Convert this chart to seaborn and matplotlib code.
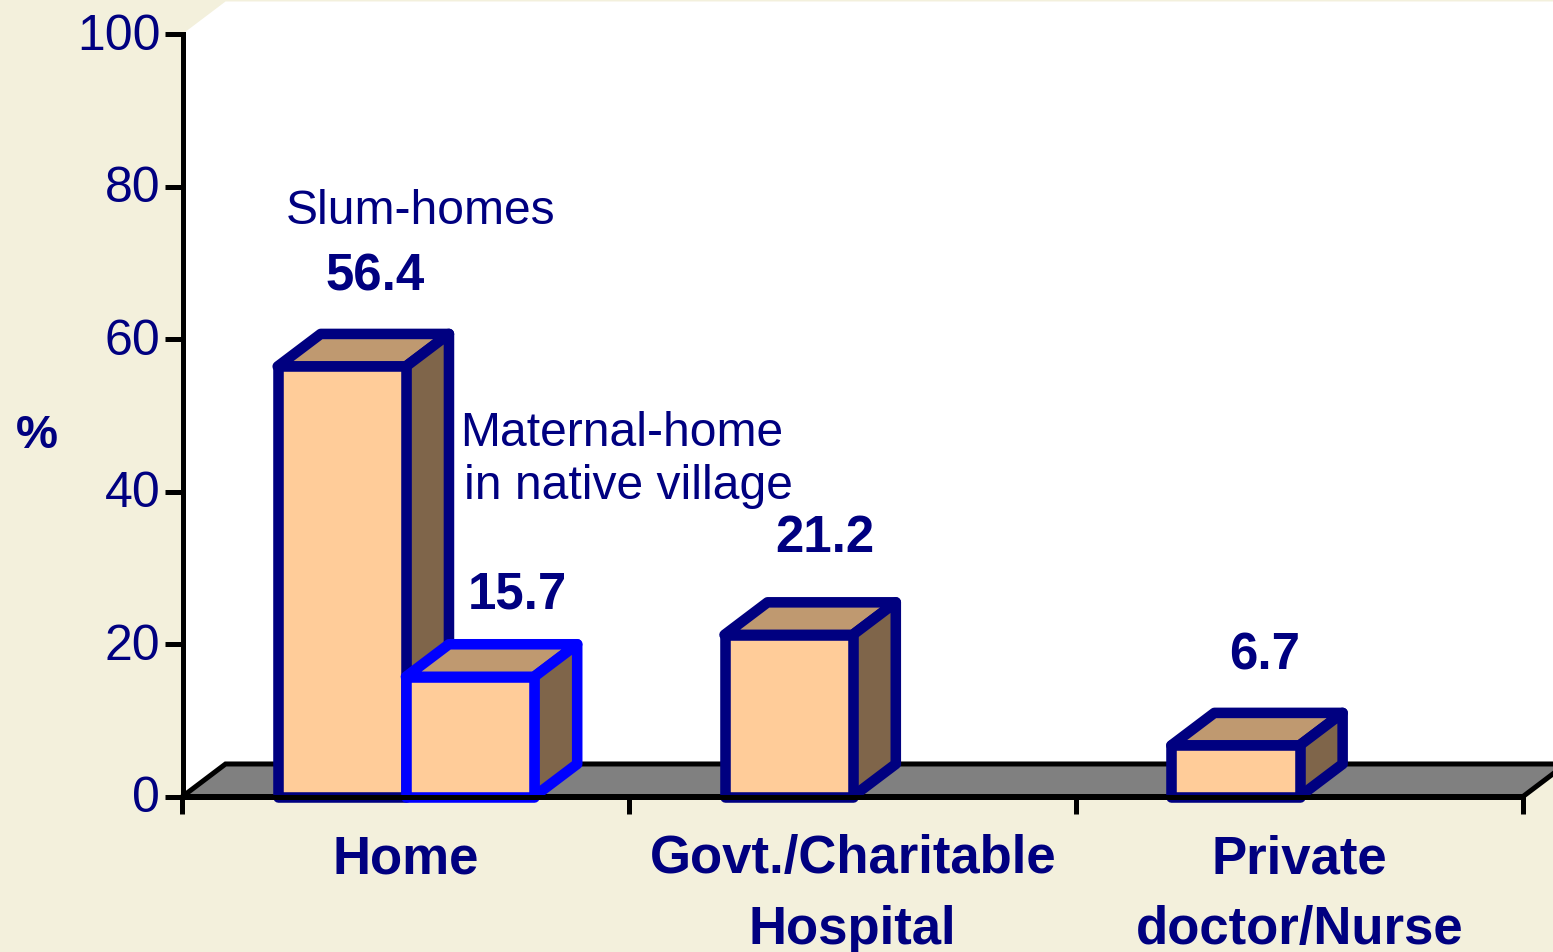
import matplotlib
matplotlib.use('Agg')
import matplotlib.pyplot as plt
import pandas as pd
import seaborn as sns
from matplotlib.patches import Polygon
from matplotlib.transforms import ScaledTranslation

# data
places = ['Home', 'Home', 'Govt./Charitable\nHospital', 'Private\ndoctor/Nurse']
kinds = ['main', 'maternal', 'main', 'main']
percent = [56.4, 15.7, 21.2, 6.7]
place_order = ['Home', 'Govt./Charitable\nHospital', 'Private\ndoctor/Nurse']
kind_order = ['main', 'maternal']
y_ticks = [0, 20, 40, 60, 80, 100]

NAVY = '#000080'
BLUE = '#0000FF'
BEIGE = '#F3F0DC'
FRONT = '#FFCC99'
TOP = '#BF9970'
SIDE = '#7F654A'
W, H = 1553, 953
EDGE = 7.6

# depth of the fake 3d box, in data units
DX = 43 / 446.4
DY = 32.5 / 7.62

sns.set_style('white')
plt.rcParams['font.family'] = ['Liberation Sans', 'DejaVu Sans']

df = pd.DataFrame({'place': places, 'kind': kinds, 'percent': percent})

fig = plt.figure(figsize=(W / 100, H / 100), dpi=100, facecolor=BEIGE)
ax = fig.add_axes([182.5 / W, (H - 797.5) / H, (1523 - 182.5) / W, (797.5 - 35) / H])
ax.patch.set_visible(False)

sns.barplot(data=df, x='place', y='percent', hue='kind', order=place_order, hue_order=kind_order,
            palette=[FRONT, FRONT], saturation=1, width=0.574, gap=0, legend=False, ax=ax)
ax.set_xlim(-0.5, 2.5)
ax.set_ylim(0, 100)


def face(points, color, edge, z):
    ax.add_patch(Polygon(points, closed=True, facecolor=color, edgecolor=edge, linewidth=EDGE,
                         joinstyle='round', clip_on=False, zorder=z))


# back wall and floor
ax.add_patch(Polygon([(-0.5, 100), (-0.5 + DX, 100 + DY), (2.5 + DX, 100 + DY), (2.5 + DX, DY),
                      (-0.5 + DX, DY), (-0.5, 0)], closed=True, facecolor='white', edgecolor='none',
                     clip_on=False, zorder=0))
ax.add_patch(Polygon([(-0.5, 0), (-0.5 + DX, DY), (2.5 + DX, DY), (2.5, 0)], closed=True,
                     facecolor='#808080', edgecolor='black', linewidth=3.6, clip_on=False, zorder=1))

# give each bar its top and side faces
for level, (container, edge) in enumerate(zip(ax.containers, [NAVY, BLUE])):
    z = 3 + level
    for bar in container:
        x0, x1 = bar.get_x(), bar.get_x() + bar.get_width()
        y1 = bar.get_height()
        face([(x0, y1), (x0 + DX, y1 + DY), (x1 + DX, y1 + DY), (x1, y1)], TOP, edge, z)
        face([(x1, y1), (x1 + DX, y1 + DY), (x1 + DX, DY), (x1, 0)], SIDE, edge, z)
        bar.set_edgecolor(edge)
        bar.set_linewidth(EDGE)
        bar.set_joinstyle('round')
        bar.set_clip_on(False)
        bar.set_zorder(z + 0.5)

# axes
sns.despine(ax=ax, top=True, right=True)
for side in ['left', 'bottom']:
    ax.spines[side].set_linewidth(3.6)
    ax.spines[side].set_color('black')
    ax.spines[side].set_zorder(6)
ax.set_yticks(y_ticks)
ax.tick_params(axis='y', which='major', left=True, length=13, width=3.6, color='black', labelsize=36,
               labelcolor=NAVY, pad=3)
# the y labels sit a little above their ticks in the original
nudge = ScaledTranslation(0, 3 / 100, fig.dpi_scale_trans)
for lab in ax.get_yticklabels():
    lab.set_transform(lab.get_transform() + nudge)
ax.set_xticks([-0.5, 0.5, 1.5, 2.5])
ax.set_xticklabels([])
ax.tick_params(axis='x', which='major', bottom=True, length=12, width=3.6, color='black')
ax.set_xticks([0, 1, 2], minor=True)
ax.set_xticklabels(place_order, minor=True, fontsize=38, fontweight='bold', color=NAVY, linespacing=1.53)
ax.tick_params(axis='x', which='minor', bottom=False, length=0, pad=26.5)
ax.set_xlabel('')
ax.set_ylabel('')


def px_text(x, y, s, **kw):
    fig.text(x / W, 1 - (y + 4) / H, s, ha='center', va='center', color=NAVY, **kw)


px_text(37, 432, '%', fontsize=34, fontweight='bold')
px_text(421, 208, 'Slum-homes', fontsize=34.6)
px_text(622, 430, 'Maternal-home', fontsize=34.6)
px_text(628, 483, 'in native village', fontsize=34.6)

# value labels
label_x = [375, 517, 825, 1265]
label_y = [273, 591, 534, 652]
for x, y, v in zip(label_x, label_y, percent):
    px_text(x, y, f'{v:.1f}', fontsize=36.7, fontweight='bold')

fig.savefig('out.png', dpi=100, facecolor=BEIGE)
